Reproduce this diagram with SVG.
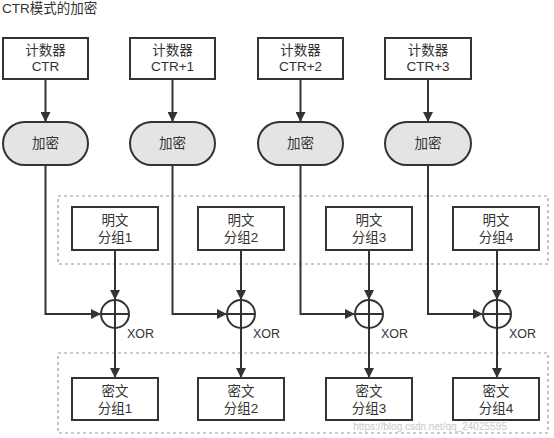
<svg xmlns="http://www.w3.org/2000/svg" width="554" height="438" viewBox="0 0 554 438">
<defs>
<marker id="ah" markerWidth="10" markerHeight="10" refX="9" refY="5" orient="auto" markerUnits="userSpaceOnUse">
<path d="M0,0 L10,5 L0,10 Z" fill="#333"/>
</marker>
<style>
text{font-family:"Liberation Sans","Noto Sans CJK SC",sans-serif;font-size:13.5px;fill:#333;text-anchor:middle}
.box{fill:#fff;stroke:#333;stroke-width:2}
.pill{fill:#e4e4e4;stroke:#333;stroke-width:2}
.grp{fill:none;stroke:#999;stroke-width:1.2;stroke-dasharray:3,3}
.ln{fill:none;stroke:#333;stroke-width:2}
.xor{fill:#fff;stroke:#333;stroke-width:2}
.lbl{text-anchor:start;font-size:12.5px}
</style>
</defs>
<rect width="554" height="438" fill="#fff"/>
<text x="2" y="13" style="text-anchor:start">CTR模式的加密</text>
<rect class="grp" x="58" y="196" width="490" height="68"/>
<rect class="grp" x="58" y="353" width="490" height="80"/>
<text x="430" y="430" style="fill:#c8c8c8;font-size:10px">https://blog.csdn.net/qq_24025595</text>
<g id="connectors">
<line class="ln" x1="45.5" y1="79" x2="45.5" y2="121" marker-end="url(#ah)"/>
<line class="ln" x1="172.5" y1="79" x2="172.5" y2="121" marker-end="url(#ah)"/>
<line class="ln" x1="300.5" y1="79" x2="300.5" y2="121" marker-end="url(#ah)"/>
<line class="ln" x1="428" y1="79" x2="428" y2="121" marker-end="url(#ah)"/>
<polyline class="ln" points="45.5,165 45.5,314 100,314" marker-end="url(#ah)"/>
<polyline class="ln" points="172.5,165 172.5,314 226,314" marker-end="url(#ah)"/>
<polyline class="ln" points="300.5,165 300.5,314 354,314" marker-end="url(#ah)"/>
<polyline class="ln" points="428,165 428,314 482,314" marker-end="url(#ah)"/>
<line class="ln" x1="115" y1="250" x2="115" y2="299" marker-end="url(#ah)"/>
<line class="ln" x1="241" y1="250" x2="241" y2="299" marker-end="url(#ah)"/>
<line class="ln" x1="369" y1="250" x2="369" y2="299" marker-end="url(#ah)"/>
<line class="ln" x1="497" y1="250" x2="497" y2="299" marker-end="url(#ah)"/>
<line class="ln" x1="115" y1="328" x2="115" y2="377" marker-end="url(#ah)"/>
<line class="ln" x1="241" y1="328" x2="241" y2="377" marker-end="url(#ah)"/>
<line class="ln" x1="369" y1="328" x2="369" y2="377" marker-end="url(#ah)"/>
<line class="ln" x1="497" y1="328" x2="497" y2="377" marker-end="url(#ah)"/>
</g>
<g id="ctr1"><rect class="box" x="3" y="38" width="85" height="41"/><text x="45.5" y="55">计数器</text><text x="45.5" y="71">CTR</text></g>
<g id="ctr2"><rect class="box" x="130" y="38" width="85" height="41"/><text x="172.5" y="55">计数器</text><text x="172.5" y="71">CTR+1</text></g>
<g id="ctr3"><rect class="box" x="258" y="38" width="85" height="41"/><text x="300.5" y="55">计数器</text><text x="300.5" y="71">CTR+2</text></g>
<g id="ctr4"><rect class="box" x="385" y="38" width="86" height="41"/><text x="428" y="55">计数器</text><text x="428" y="71">CTR+3</text></g>
<g id="enc1"><rect class="pill" x="3" y="122" width="85" height="43" rx="21.5"/><text x="45.5" y="148">加密</text></g>
<g id="enc2"><rect class="pill" x="130" y="122" width="85" height="43" rx="21.5"/><text x="172.5" y="148">加密</text></g>
<g id="enc3"><rect class="pill" x="258" y="122" width="85" height="43" rx="21.5"/><text x="300.5" y="148">加密</text></g>
<g id="enc4"><rect class="pill" x="385" y="122" width="86" height="43" rx="21.5"/><text x="428" y="148">加密</text></g>
<g id="p1"><rect class="box" x="72" y="207" width="86" height="43"/><text x="115" y="225">明文</text><text x="115" y="242">分组1</text></g>
<g id="p2"><rect class="box" x="198" y="207" width="86" height="43"/><text x="241" y="225">明文</text><text x="241" y="242">分组2</text></g>
<g id="p3"><rect class="box" x="326" y="207" width="86" height="43"/><text x="369" y="225">明文</text><text x="369" y="242">分组3</text></g>
<g id="p4"><rect class="box" x="453" y="207" width="86" height="43"/><text x="496" y="225">明文</text><text x="496" y="242">分组4</text></g>
<g id="x1"><circle class="xor" cx="115" cy="314" r="14"/><path class="ln" d="M101,314 H129 M115,300 V328"/><text class="lbl" x="127" y="338">XOR</text></g>
<g id="x2"><circle class="xor" cx="241" cy="314" r="14"/><path class="ln" d="M227,314 H255 M241,300 V328"/><text class="lbl" x="253" y="338">XOR</text></g>
<g id="x3"><circle class="xor" cx="369" cy="314" r="14"/><path class="ln" d="M355,314 H383 M369,300 V328"/><text class="lbl" x="381" y="338">XOR</text></g>
<g id="x4"><circle class="xor" cx="497" cy="314" r="14"/><path class="ln" d="M483,314 H511 M497,300 V328"/><text class="lbl" x="509" y="338">XOR</text></g>
<g id="c1"><rect class="box" x="72" y="378" width="86" height="42"/><text x="115" y="396">密文</text><text x="115" y="413">分组1</text></g>
<g id="c2"><rect class="box" x="198" y="378" width="86" height="42"/><text x="241" y="396">密文</text><text x="241" y="413">分组2</text></g>
<g id="c3"><rect class="box" x="326" y="378" width="86" height="42"/><text x="369" y="396">密文</text><text x="369" y="413">分组3</text></g>
<g id="c4"><rect class="box" x="453" y="378" width="86" height="42"/><text x="496" y="396">密文</text><text x="496" y="413">分组4</text></g>
</svg>
